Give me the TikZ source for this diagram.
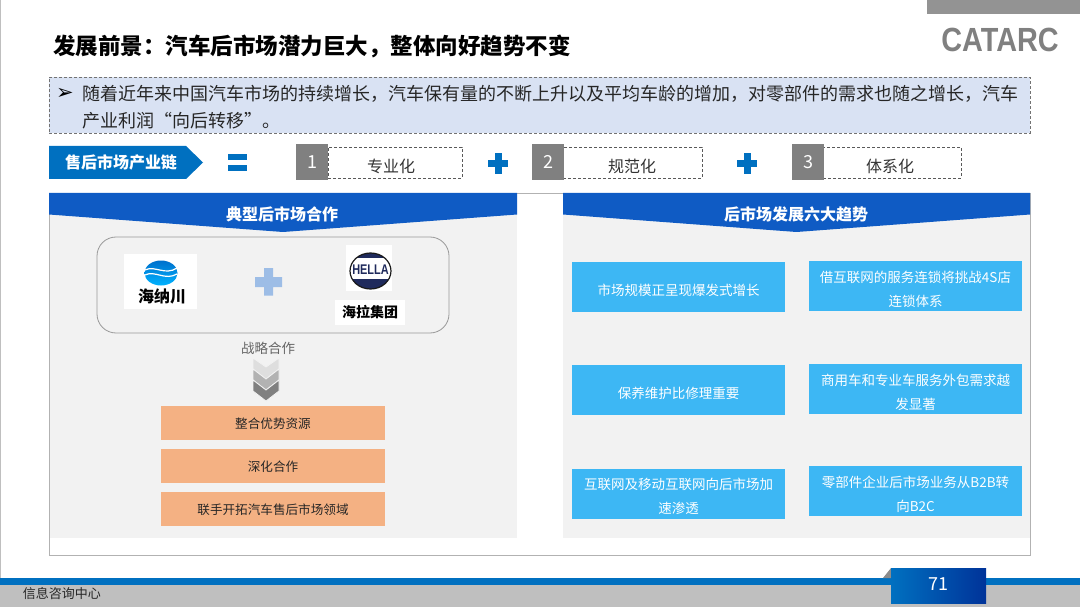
\documentclass[tikz,border=0pt]{standalone}
\usepackage{fontspec}
\setmainfont{Noto Sans CJK SC}
\newfontfamily\symfont{DejaVu Sans}
\newfontfamily\logofont{Liberation Sans}
\usepackage{tikz}
\usetikzlibrary{calc,positioning}
\definecolor{barblue}{HTML}{0070C0}
\definecolor{headblue}{HTML}{0F5BC4}
\definecolor{skyblue}{HTML}{3DB7F4}
\definecolor{panelgray}{HTML}{F2F2F2}
\definecolor{frontgray}{HTML}{808080}
\definecolor{peach}{HTML}{F4B183}
\definecolor{noteblue}{HTML}{D9E2F3}
\definecolor{paleplus}{HTML}{9DBDE6}
\definecolor{hellanavy}{HTML}{1F2A5C}
\newcommand{\fsize}[2]{\fontsize{#1}{#2}\selectfont}

\begin{document}
\begin{tikzpicture}[x=1pt,y=-1pt,inner sep=0pt,
    numbox/.style={rectangle, fill=frontgray, text=white, minimum width=32pt, minimum height=36pt, font=\fsize{18}{22}},
    namebox/.style={rectangle, draw=black!65, densely dashed, line width=0.7pt, fill=white, minimum height=31pt},
    nametext/.style={font=\fsize{16}{20}, text=black!80},
    peachbox/.style={rectangle, fill=peach, minimum width=224pt, minimum height=34pt},
    peachtext/.style={font=\fsize{12.6}{16}, text=black!85},
    trendbox/.style={rectangle, fill=skyblue, minimum width=213pt, minimum height=50pt},
    trendtext/.style={align=center, text=white, font=\fsize{13.5}{24}},
    headtext/.style={text=white, font=\fsize{16}{20}\bfseries},
    chevron/.style={draw=panelgray, line width=0.8pt}]

    \useasboundingbox (0,0) rectangle (1080,607);

    % page furniture
    \fill[white] (0,0) rectangle (1080,607);
    \draw[black!25, line width=1pt] (0.5,0) -- (0.5,578);
    \draw (1003.5,7) node[rectangle, fill=frontgray!85, minimum width=153pt, minimum height=14pt] (corner) {};
    \draw (1000,40) node[text=frontgray, xscale=0.86, font=\logofont\fsize{33.5}{36}\bfseries] (logo) {CATARC};
    \draw (53,46) node[anchor=west, font=\fsize{22.5}{26}\bfseries] (title) {发展前景：汽车后市场潜力巨大，整体向好趋势不变};

    % note on top
    \draw (539.5,105) node[rectangle, fill=noteblue, draw=black!55, densely dashed, line width=0.7pt, minimum width=981pt, minimum height=56pt] (note) {};
    \draw (65,94) node[font=\symfont\fsize{21}{24}] (arrowmark) {➢};
    \draw (82,107.5) node[anchor=west, align=left, text=black!85, font=\fsize{18}{27}] (notetext) {随着近年来中国汽车市场的持续增长，汽车保有量的不断上升以及平均车龄的增加，对零部件的需求也随之增长，汽车\\产业利润“向后转移”。};

    % chain line
    \fill[barblue] (49,146) -- (186,146) -- (203,162.5) -- (186,179) -- (49,179) -- cycle;
    \draw (121,162) node[headtext] (chain) {售后市场产业链};
    \fill[barblue] (227.5,154) rectangle (246.5,160.5);
    \fill[barblue] (227.5,165) rectangle (246.5,171.5);
    \draw (395,162.5) node[namebox, minimum width=134pt] (nameA) {};
    \draw (391,166) node[nametext] (labelA) {专业化};
    \draw (312,162) node[numbox] (numA) {1};
    \fill[barblue] (488,160) rectangle (508,167);
    \fill[barblue] (494.5,153) rectangle (501.5,174);
    \draw (632.5,162.5) node[namebox, minimum width=139pt] (nameB) {};
    \draw (632,166) node[nametext] (labelB) {规范化};
    \draw (548,162) node[numbox] (numB) {2};
    \fill[barblue] (737,160) rectangle (757,167);
    \fill[barblue] (743.5,153) rectangle (750.5,174);
    \draw (892,162.5) node[namebox, minimum width=138pt] (nameC) {};
    \draw (890,166) node[nametext] (labelC) {体系化};
    \draw (808,162) node[numbox] (numC) {3};

    % frame and panels
    \draw[black!30, line width=1pt] (49,193.5) rectangle (1030,555);
    \fill[panelgray] (49.5,194) rectangle (517,538);
    \fill[panelgray] (563,194) rectangle (1029.5,538);
    \fill[headblue] (49,193) -- (517,193) -- (517,214.5) -- (283,232) -- (49,214.5) -- cycle;
    \fill[headblue] (563,193) -- (1030,193) -- (1030,214.5) -- (796.5,232) -- (563,214.5) -- cycle;
    \draw (282,214.5) node[headtext] (headL) {典型后市场合作};
    \draw (796,214.5) node[headtext] (headR) {后市场发展六大趋势};

    % partners
    \draw (273,285) node[rectangle, rounded corners=19pt, draw=black!40, line width=0.8pt, minimum width=352pt, minimum height=96pt] (partners) {};
    \draw (160.5,281.5) node[rectangle, fill=white, minimum width=73pt, minimum height=55pt] (hainaBack) {};
    \shade[top color=blue!45!cyan!80!black, bottom color=cyan!70!blue] (161,273) ellipse (16.5 and 12.5);
    \draw[white, line width=1.2pt] (145,270) .. controls (155,265) and (165,276) .. (177,268);
    \draw[white, line width=1.2pt] (145,275) .. controls (155,270) and (165,281) .. (177,274);
    \draw (162,296.5) node[font=\fsize{16}{18}\bfseries] (haina) {海纳川};
    \draw (369,268) node[rectangle, fill=white, minimum width=46pt, minimum height=46pt] (hellaBack) {};
    \begin{scope}
      \clip (370.5,271) ellipse (20.5 and 18);
      \fill[hellanavy] (350,253) rectangle (391,258);
      \fill[hellanavy] (350,279) rectangle (391,289);
    \end{scope}
    \draw[black!90, line width=1.2pt] (370.5,271) ellipse (20.5 and 18);
    \draw (370.5,269.5) node[font=\logofont\fsize{14}{16}\bfseries, xscale=0.78, text=hellanavy] (hella) {HELLA};
    \draw (370,312.5) node[rectangle, fill=white, minimum width=70pt, minimum height=25pt, font=\fsize{14}{18}\bfseries] (hellaName) {海拉集团};
    \fill[paleplus] (264,268) -- (273,268) -- (273,277) -- (282,277) -- (282,287) -- (273,287) -- (273,295.5) -- (264,295.5) -- (264,287) -- (255,287) -- (255,277) -- (264,277) -- cycle;

    % cooperation steps
    \draw (268,348) node[text=black!60, font=\fsize{13.5}{16}] (strategy) {战略合作};
    \fill[black!13, chevron] (253,358) -- (266,367) -- (279,358) -- (279,369) -- (266,379) -- (253,369) -- cycle;
    \fill[black!30, chevron] (253,369) -- (266,379) -- (279,369) -- (279,380) -- (266,390) -- (253,380) -- cycle;
    \fill[black!50, chevron] (253,380) -- (266,390) -- (279,380) -- (279,391) -- (266,401) -- (253,391) -- cycle;
    \draw (273,423) node[peachbox] (stepA) {};
    \draw (273,423.5) node[peachtext] (stepTextA) {整合优势资源};
    \draw (273,466) node[peachbox] (stepB) {};
    \draw (273,466.5) node[peachtext] (stepTextB) {深化合作};
    \draw (273,509) node[peachbox] (stepC) {};
    \draw (273,509.5) node[peachtext] (stepTextC) {联手开拓汽车售后市场领域};

    % six trends
    \draw (678.5,287) node[trendbox] (trendA) {};
    \draw (678.5,290) node[trendtext] (textA) {市场规模正呈现爆发式增长};
    \draw (915.5,286) node[trendbox] (trendB) {};
    \draw (915.5,289) node[trendtext] (textB) {借互联网的服务连锁将挑战4S店\\连锁体系};
    \draw (678.5,390) node[trendbox] (trendC) {};
    \draw (678.5,393) node[trendtext] (textC) {保养维护比修理重要};
    \draw (915.5,389) node[trendbox] (trendD) {};
    \draw (915.5,392) node[trendtext] (textD) {商用车和专业车服务外包需求越\\发显著};
    \draw (678.5,493.5) node[trendbox] (trendE) {};
    \draw (678.5,496.5) node[trendtext] (textE) {互联网及移动互联网向后市场加\\速渗透};
    \draw (915.5,491) node[trendbox] (trendF) {};
    \draw (915.5,494) node[trendtext] (textF) {零部件企业后市场业务从B2B转\\向B2C};

    % bottom bars
    \fill[black!25] (0,585) rectangle (1080,607);
    \fill[barblue] (0,578) rectangle (1080,585);
    \draw (62,594) node[font=\fsize{13}{16}, text=black!85] (dept) {信息咨询中心};
    \fill[black!45] (883,578) -- (891,568) -- (891,578) -- cycle;
    \shade[left color=barblue, right color=blue!50!black!80!cyan] (891,568) rectangle (986,603);
    \draw (938,584) node[text=white, font=\fsize{18}{22}] (pagenum) {71};

  \end{tikzpicture}
\end{document}
